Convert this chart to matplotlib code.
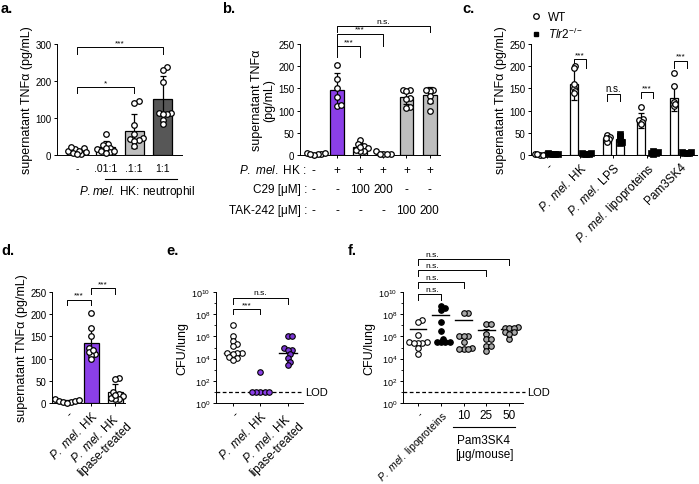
import numpy as np
import matplotlib
matplotlib.use('Agg')
import matplotlib.pyplot as plt
from matplotlib.lines import Line2D
from matplotlib.transforms import blended_transform_factory as btf

plt.rcParams['font.family'] = ['Liberation Sans', 'DejaVu Sans']
plt.rcParams['mathtext.fontset'] = 'custom'
plt.rcParams['mathtext.rm'] = 'Liberation Sans'
plt.rcParams['mathtext.it'] = 'Liberation Sans:italic'
plt.rcParams['mathtext.bf'] = 'Liberation Sans:bold'
plt.rcParams['axes.linewidth'] = 0.7
plt.rcParams['xtick.major.width'] = 0.7
plt.rcParams['ytick.major.width'] = 0.7
plt.rcParams['xtick.major.size'] = 2.5
plt.rcParams['ytick.major.size'] = 2.5
plt.rcParams['xtick.labelsize'] = 7
plt.rcParams['ytick.labelsize'] = 7

PURPLE = '#8B3FE8'
PURPLE_DK = '#7A36D2'
GRAY = '#BEBEBE'
DARK = '#575757'

# ---------------- data ----------------
a_labels = ['-', '.01:1', '.1:1', '1:1']
a_means = [10, 22, 65, 152]
a_sd = [7, 15, 45, 61]
a_points = [[20, 15, 10, 5, 3, 12, 8, 2, 22],
            [57, 30, 28, 20, 18, 15, 10, 8, 5, 12],
            [145, 140, 80, 58, 45, 42, 40, 38, 25],
            [238, 230, 196, 113, 113, 112, 95, 84, 110]]

b_means = [3, 147, 18, 4, 130, 136]
b_sd = [2, 37, 10, 3, 15, 18]
b_points = [[3, 2, 1, 4, 5, 2],
            [203, 171, 150, 130, 110, 112],
            [33, 25, 20, 15, 10, 8, 12, 18],
            [8, 3, 2, 3, 2],
            [147, 146, 145, 128, 126, 108, 105],
            [146, 145, 147, 134, 122, 100]]
b_row_labels = [r'$\mathit{P.\ mel.}$ HK :', 'C29 [\u03bcM] :', 'TAK-242 [\u03bcM] :']
b_rows = [['-', '+', '+', '+', '+', '+'],
          ['-', '-', '100', '200', '-', '-'],
          ['-', '-', '-', '-', '100', '200']]

c_labels = ['-', r'$\mathit{P.\ mel.}$ HK', r'$\mathit{P.\ mel.}$ LPS',
            r'$\mathit{P.\ mel.}$ lipoproteins', 'Pam3SK4']
c_wt_mean = [2, 160, 38, 77, 128]
c_wt_sd = [1, 36, 8, 17, 28]
c_ko_mean = [3, 3, 35, 5, 5]
c_ko_sd = [1, 1, 12, 3, 2]
c_wt_points = [[2, 1, 3, 2, 1],
               [200, 195, 150, 145, 140, 160],
               [45, 40, 35, 30, 38],
               [108, 80, 78, 75, 70],
               [185, 155, 120, 110, 115]]
c_ko_points = [[3, 2, 4, 3, 2],
               [4, 3, 2, 5, 3],
               [47, 42, 30, 28, 35],
               [8, 5, 3, 6, 4],
               [6, 5, 4, 7, 5]]

d_labels = ['-', r'$\mathit{P.\ mel.}$ HK', r'$\mathit{P.\ mel.}$ HK' + '\nlipase-treated']
d_means = [3, 136, 24]
d_sd = [3, 33, 18]
d_points = [[8, 5, 3, 2, 1, 4, 6],
            [202, 170, 150, 125, 110, 108, 100, 115, 120],
            [57, 53, 25, 20, 15, 10, 8, 12, 18]]

e_labels = d_labels
e_points = [[1e7, 1e6, 4e5, 2e5, 1.5e5, 3e4, 3e4, 3e4, 2.5e4, 1.5e4, 1.2e4, 8e3],
            [6e2, 10, 10, 10, 10, 10],
            [1e6, 1e6, 1e5, 6e4, 6e4, 2.5e4, 1.2e4, 5e3, 2.5e3]]
e_median = [3e4, 10, 3e4]
LOD = 10

f_labels = ['-', r'$\mathit{P.\ mel.}$ lipoproteins', '10', '25', '50']
f_points = [[3e7, 2e7, 1.3e6, 3e5, 2.5e5, 3e5, 2.5e5, 1e5, 2.5e4, 2.5e5],
            [6e8, 4e8, 2.5e8, 2e7, 3e6, 6e5, 3e5, 3e5, 3e5, 3e5],
            [1.2e8, 1.2e8, 1e6, 1e6, 1e6, 3e5, 1e5, 7e4, 7e4, 7e4],
            [1.2e7, 1.2e7, 1.6e6, 5.6e5, 5.6e5, 1.4e5, 1.4e5, 5e4],
            [6e6, 6e6, 7e6, 6e6, 2.5e6, 2.5e6, 6e5, 1.5e6]]
f_mean = [5e6, 8e7, 3e7, 3.5e6, 4.5e6]
f_sem = [0, 0, 0, 1.5e6, 0]

# ---------------- helpers ----------------
W, H = 699, 485
fig = plt.figure(figsize=(6.99, 4.85), dpi=100)


def rect(L, R, T, B):
    return [L / W, 1 - B / H, (R - L) / W, (B - T) / H]


def style(ax):
    ax.spines['top'].set_visible(False)
    ax.spines['right'].set_visible(False)
    ax.tick_params(direction='out', pad=1.5)


def swarm(ax, xc, vals, d_px=5.4, **kw):
    vals = np.asarray(vals, float)
    n = len(vals)
    disp = ax.transData.transform(np.column_stack([np.full(n, xc), vals]))
    x0 = disp[0, 0]
    ys = disp[:, 1]
    xs = np.full(n, x0)
    placed = []
    for i in np.argsort(ys):
        xsel = x0
        done = False
        for k in range(0, 30):
            for c in ([0] if k == 0 else [k, -k]):
                x = x0 + c * d_px * 0.4
                if all((x - px) ** 2 + (ys[i] - py) ** 2 >= (d_px * 0.72) ** 2 for px, py in placed):
                    xsel = x
                    done = True
                    break
            if done:
                break
        xs[i] = xsel
        placed.append((xsel, ys[i]))
    data = ax.transData.inverted().transform(np.column_stack([xs, ys]))
    ax.scatter(data[:, 0], vals, clip_on=False, zorder=5, **kw)


def bracket(ax, x1, x2, y, h, text, fs=6, log=False, tx=None):
    ylo = y / h if log else y - h
    ax.plot([x1, x1, x2, x2], [ylo, y, y, ylo], color='black', lw=0.7, clip_on=False)
    if tx is None:
        tx = (x1 + x2) / 2
    ax.annotate(text, (tx, y), xytext=(0, 0.8), textcoords='offset points',
                ha='center', va='bottom', fontsize=fs, annotation_clip=False)


def bars(ax, xs, means, sd, colors, width):
    ax.bar(xs, means, width=width, color=colors, edgecolor='black', linewidth=0.9, zorder=2)
    ax.errorbar(xs, means, yerr=sd, fmt='none', ecolor='black', elinewidth=0.9,
                capsize=2.5, capthick=0.9, zorder=3)


PT = dict(s=16, facecolor='white', edgecolor='black', linewidths=0.9)

# ---------------- panel a ----------------
ax = fig.add_axes(rect(57, 182, 45, 156))
style(ax)
xa = np.arange(len(a_labels))
ax.set_xlim(-0.7, 3.67)
ax.set_ylim(0, 300)
ax.set_yticks([0, 100, 200, 300])
bars(ax, xa, a_means, a_sd, ['white', 'white', GRAY, DARK], 0.67)
for i, p in enumerate(a_points):
    swarm(ax, xa[i], p, **PT)
ax.set_xticks(xa)
ax.set_xticklabels(a_labels, fontsize=7.5)
ax.tick_params(axis='x', length=0, pad=6)
ax.set_ylabel('supernatant TNF\u03b1 (pg/mL)', fontsize=9, labelpad=2)
bracket(ax, 0, 2, 183, 16, '*')
bracket(ax, 0, 3, 291, 18, '***')
fig.add_artist(Line2D([105 / W, 177 / W], [1 - 180 / H, 1 - 180 / H], color='black', lw=0.8))
fig.text(137 / W, 1 - 192 / H, r'$\mathit{P.mel.}$ HK: neutrophil', ha='center', va='center', fontsize=8.5)

# ---------------- panel b ----------------
ax = fig.add_axes(rect(300, 440, 45, 156))
style(ax)
xb = np.arange(len(b_means))
ax.set_xlim(-0.6, 5.45)
ax.set_ylim(0, 250)
ax.set_yticks([0, 50, 100, 150, 200, 250])
bars(ax, xb, b_means, b_sd, ['white', PURPLE, 'white', 'white', GRAY, GRAY], 0.6)
for i, p in enumerate(b_points):
    swarm(ax, xb[i], p, d_px=4.6, **PT)
ax.set_xticks(xb)
ax.set_xticklabels([])
ax.set_ylabel('supernatant TNF\u03b1\n(pg/mL)', fontsize=9, labelpad=2, linespacing=1.1)
bracket(ax, 1, 2, 245, 25, '***')
bracket(ax, 1, 3, 273, 27, '***')
bracket(ax, 1, 5, 291, 15, 'n.s.')
tr = btf(ax.transData, fig.transFigure)
for r, (lab, row) in enumerate(zip(b_row_labels, b_rows)):
    yy = 1 - [171, 190, 211][r] / H
    fig.text(307 / W, yy, lab, ha='right', va='center', fontsize=8.5)
    for j, t in enumerate(row):
        ax.text(xb[j], yy, t, transform=tr, ha='center', va='center', fontsize=8.5)

# ---------------- panel c ----------------
ax = fig.add_axes(rect(531, 697, 45, 156))
style(ax)
xc = np.arange(len(c_labels))
ax.set_xlim(-0.47, 4.5)
ax.set_ylim(0, 250)
ax.set_yticks([0, 50, 100, 150, 200, 250])
off = 0.19
bars(ax, xc - off, c_wt_mean, c_wt_sd, 'white', 0.24)
bars(ax, xc + off, c_ko_mean, c_ko_sd, 'white', 0.24)
for i in range(len(c_labels)):
    swarm(ax, xc[i] - off, c_wt_points[i], d_px=3.6, **PT)
    swarm(ax, xc[i] + off, c_ko_points[i], d_px=3.0, s=14, marker='s', facecolor='black',
          edgecolor='black', linewidths=0.5)
ax.set_xticks(xc)
ax.set_xticklabels(c_labels, rotation=45, ha='right', rotation_mode='anchor', fontsize=8.5)
ax.set_ylabel('supernatant TNF\u03b1 (pg/mL)', fontsize=9, labelpad=2)
bracket(ax, 1 - off, 1 + off, 216, 19, '***')
bracket(ax, 2 - off, 2 + off, 137, 15, 'n.s.', fs=7)
bracket(ax, 3 - off, 3 + off, 141, 13, '***')
bracket(ax, 4 - off, 4 + off, 212, 15, '***')
handles = [Line2D([], [], ls='none', marker='o', mfc='white', mec='black', ms=4, mew=0.9),
           Line2D([], [], ls='none', marker='s', mfc='black', mec='black', ms=3.5)]
ax.legend(handles, ['WT', r'$\mathit{Tlr2}^{-/-}$'], loc='upper left',
          bbox_to_anchor=(531 / W, 1 - 12 / H), bbox_transform=fig.transFigure,
          frameon=False, fontsize=8.5, handlelength=0.8, handletextpad=0.6,
          borderpad=0, labelspacing=0.25, borderaxespad=0)

# ---------------- panel d ----------------
ax = fig.add_axes(rect(52, 125, 293, 404))
style(ax)
xd = np.arange(len(d_means))
ax.set_xlim(-0.62, 2.4)
ax.set_ylim(0, 250)
ax.set_yticks([0, 50, 100, 150, 200, 250])
bars(ax, xd, d_means, d_sd, ['white', PURPLE, 'white'], 0.62)
for i, p in enumerate(d_points):
    swarm(ax, xd[i], p, d_px=4.8, **PT)
ax.set_xticks(xd)
ax.set_xticklabels(d_labels, rotation=45, ha='right', rotation_mode='anchor', fontsize=8.5,
                   multialignment='center')
ax.set_ylabel('supernatant TNF\u03b1 (pg/mL)', fontsize=9, labelpad=2)
bracket(ax, 0, 1, 233, 13, '***')
bracket(ax, 1, 2, 258, 13, '***')

# ---------------- panel e ----------------
ax = fig.add_axes(rect(216, 303, 293, 404))
style(ax)
ax.set_yscale('log')
xe = np.arange(len(e_points))
ax.set_xlim(-0.62, 2.55)
ax.set_ylim(1, 1e10)
ax.set_yticks([1, 1e2, 1e4, 1e6, 1e8, 1e10])
ax.set_yticks([1e1, 1e3, 1e5, 1e7, 1e9], minor=True)
ax.set_yticklabels([], minor=True)
ax.tick_params(axis='y', which='minor', length=1.5, width=0.6)
ax.tick_params(axis='y', labelsize=6.5)
ax.axhline(LOD, xmin=0, xmax=1.0, color='black', lw=0.9, ls=(0, (3, 2)), zorder=1)
ax.text(1.02, LOD, 'LOD', transform=btf(ax.transAxes, ax.transData), va='center', ha='left', fontsize=8)
ecols = ['white', PURPLE, PURPLE_DK]
for i, p in enumerate(e_points):
    ax.plot([xe[i] - 0.33, xe[i] + 0.33], [e_median[i], e_median[i]], color='black', lw=1.0, zorder=4)
    swarm(ax, xe[i], p, s=16, facecolor=ecols[i], edgecolor='black', linewidths=0.8)
ax.set_xticks(xe)
ax.set_xticklabels(e_labels, rotation=45, ha='right', rotation_mode='anchor', fontsize=8.5,
                   multialignment='center')
ax.set_ylabel('CFU/lung', fontsize=9, labelpad=2)
bracket(ax, 0, 1, 10 ** 8.44, 10 ** 0.45, '***', log=True)
bracket(ax, 0, 2, 10 ** 9.5, 10 ** 0.6, 'n.s.', log=True)

# ---------------- panel f ----------------
ax = fig.add_axes(rect(403, 523, 293, 404))
style(ax)
ax.set_yscale('log')
xf = np.arange(len(f_points))
ax.set_xlim(-0.66, 4.6)
ax.set_ylim(1, 1e10)
ax.set_yticks([1, 1e2, 1e4, 1e6, 1e8, 1e10])
ax.set_yticks([1e1, 1e3, 1e5, 1e7, 1e9], minor=True)
ax.set_yticklabels([], minor=True)
ax.tick_params(axis='y', which='minor', length=1.5, width=0.6)
ax.tick_params(axis='y', labelsize=6.5)
ax.axhline(LOD, xmin=0, xmax=1.02, color='black', lw=0.9, ls=(0, (3, 2)), zorder=1, clip_on=False)
ax.text(1.035, LOD, 'LOD', transform=btf(ax.transAxes, ax.transData), va='center', ha='left', fontsize=8)
fcols = ['white', 'black', '#A8A8A8', '#A8A8A8', '#A8A8A8']
for i, p in enumerate(f_points):
    ax.plot([xf[i] - 0.37, xf[i] + 0.37], [f_mean[i], f_mean[i]], color='black', lw=1.0, zorder=4)
    if f_sem[i] > 0:
        ax.errorbar([xf[i]], [f_mean[i]], yerr=[[f_sem[i]], [f_sem[i]]], fmt='none', ecolor='black',
                    elinewidth=0.8, capsize=2, capthick=0.8, zorder=4)
    swarm(ax, xf[i], p, s=16, facecolor=fcols[i], edgecolor='black', linewidths=0.8)
ax.set_xticks(xf)
ax.set_xticklabels(f_labels, fontsize=8.5)
for k, t in enumerate(ax.get_xticklabels()):
    if k < 2:
        t.set_rotation(45)
        t.set_ha('right')
        t.set_rotation_mode('anchor')
        t.set_fontsize(7.5)
ax.set_ylabel('CFU/lung', fontsize=9, labelpad=2)
for j, top in zip([1, 2, 3, 4], [9.8, 10.9, 12.0, 13.0]):
    bracket(ax, 0, j, 10 ** top, 10 ** 0.55, 'n.s.', log=True, tx=0.6)
fig.add_artist(Line2D([453 / W, 515 / W], [1 - 428 / H, 1 - 428 / H], color='black', lw=0.8))
fig.text(484 / W, 1 - 441 / H, 'Pam3SK4', ha='center', va='center', fontsize=8.5)
fig.text(484 / W, 1 - 455 / H, '[\u03bcg/mouse]', ha='center', va='center', fontsize=8.5)

# ---------------- panel letters ----------------
for lab, (px, py) in zip(['a.', 'b.', 'c.', 'd.', 'e.', 'f.'],
                         [(1, 9), (222, 9), (462, 9), (1, 251), (166, 251), (348, 251)]):
    fig.text(px / W, 1 - py / H, lab, fontsize=10.5, fontweight='bold', ha='left', va='center')

fig.savefig('out.png', dpi=100)
